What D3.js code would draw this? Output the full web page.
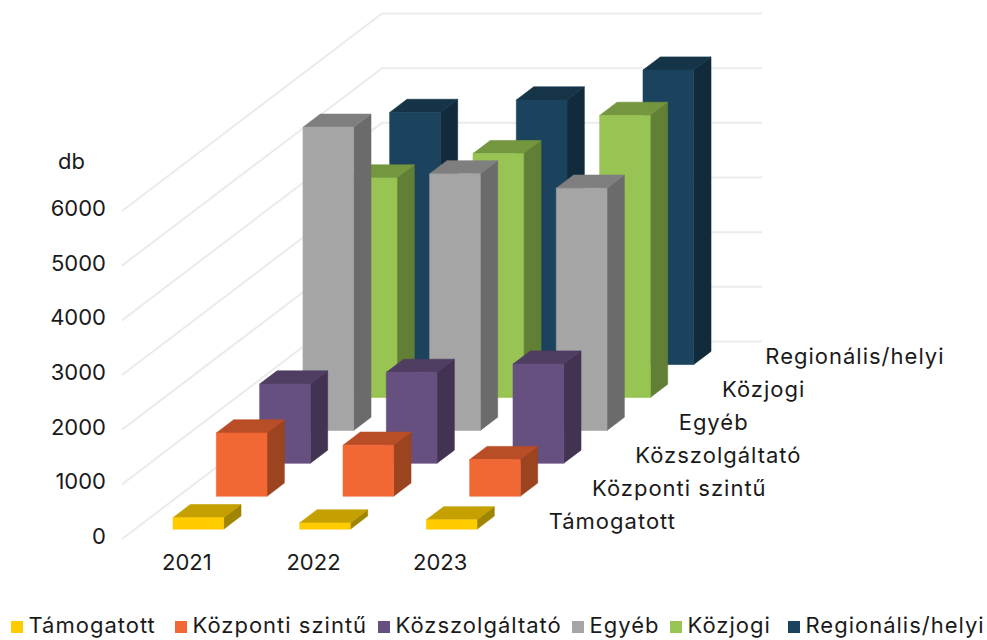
<!DOCTYPE html>
<html>
<head>
<meta charset="utf-8">
<script src="https://cdn.jsdelivr.net/npm/d3@7"></script>
<style>
    html, body { margin: 0; padding: 0; background: #fff; }
    text { font-family: Inter, "Noto Sans", sans-serif; font-size: 22px; fill: #1a1a1a; }
</style>
</head>
<body>
<svg id="chart" width="987" height="640"></svg>
<script>
const years = ['2021', '2022', '2023'];
const seriesNames = ['Támogatott', 'Központi szintű', 'Közszolgáltató', 'Egyéb', 'Közjogi', 'Regionális/helyi'];

// values
const tamogatott = [210, 113, 170];
const kozponti = [1157, 932, 670];
const kozszolgaltato = [1450, 1664, 1815];
const egyeb = [5545, 4693, 4430];
const kozjogi = [4015, 4461, 5160];
const regionalis = [4612, 4839, 5387];
const seriesValues = [tamogatott, kozponti, kozszolgaltato, egyeb, kozjogi, regionalis];

const yTicks = [0, 1000, 2000, 3000, 4000, 5000, 6000];

// front, top, side shade of each series
const frontColors = ['#FFCC00', '#F26835', '#66507F', '#A5A5A5', '#97C452', '#1B435D'];
const topColors = ['#C4A000', '#B94E26', '#4F3D62', '#7F7F7F', '#74963F', '#153448'];
const sideColors = ['#A08500', '#9C4320', '#433353', '#6B6B6B', '#617F35', '#112B3C'];

const legendX = [11, 175, 378, 572, 670, 788];

const svg = d3.select('#chart');

// floor corner and the oblique direction of the depth axis
const origin = {x: 122, y: 539};
const floorWidth = 380;
const depthVec = {x: 260, y: -197.5};

const x = d3.scaleBand().domain(years).range([0, floorWidth]).paddingInner(0.6).paddingOuter(0.3);
const z = d3.scaleBand().domain(seriesNames).range([0, 1]).paddingInner(0.6).paddingOuter(0.3);
const y = d3.scaleLinear().domain([0, 6000]).range([0, 328]);

// x along the floor, d along the depth (0..1), v as a data value
function project(px, d, v) {
    return [origin.x + px + d * depthVec.x, origin.y + d * depthVec.y - y(v)];
}

function poly(points) {
    return points.map(p => p.join(',')).join(' ');
}

// grid
svg.append('g').selectAll('polyline')
    .data(yTicks)
    .join('polyline')
    .attr('points', d => poly([project(0, 0, d), project(0, 1, d), project(floorWidth, 1, d)]))
    .attr('fill', 'none')
    .attr('stroke', '#ebebeb')
    .attr('stroke-width', 2);

// bars, back row first
const rows = seriesNames.map((name, i) => ({name, i})).reverse();

rows.forEach(row => {
    const g = svg.append('g').attr('class', 'row');
    const d0 = z(row.name);
    const d1 = d0 + z.bandwidth();
    const cells = years.map((year, j) => {
        const x0 = x(year);
        return {x0, x1: x0 + x.bandwidth(), v: seriesValues[row.i][j]};
    });

    g.selectAll('.side').data(cells).join('polygon')
        .attr('class', 'side')
        .attr('fill', sideColors[row.i])
        .attr('stroke', sideColors[row.i])
        .attr('stroke-width', 0.6)
        .attr('points', c => poly([project(c.x1, d0, 0), project(c.x1, d1, 0), project(c.x1, d1, c.v), project(c.x1, d0, c.v)]));

    g.selectAll('.top').data(cells).join('polygon')
        .attr('class', 'top')
        .attr('fill', topColors[row.i])
        .attr('stroke', topColors[row.i])
        .attr('stroke-width', 0.6)
        .attr('points', c => poly([project(c.x0, d0, c.v), project(c.x1, d0, c.v), project(c.x1, d1, c.v), project(c.x0, d1, c.v)]));

    g.selectAll('.front').data(cells).join('polygon')
        .attr('class', 'front')
        .attr('fill', frontColors[row.i])
        .attr('stroke', frontColors[row.i])
        .attr('stroke-width', 0.6)
        .attr('points', c => poly([project(c.x0, d0, 0), project(c.x1, d0, 0), project(c.x1, d0, c.v), project(c.x0, d0, c.v)]));
});

// value axis
const yAxisScale = d3.scaleLinear().domain([0, 6000]).range([origin.y - 2.5, origin.y - 2.5 - y(6000)]);
const yAxis = d3.axisLeft(yAxisScale).tickValues(yTicks).tickSize(0).tickPadding(0).tickFormat(d3.format('d'));
svg.append('g')
    .attr('transform', 'translate(106,0)')
    .call(yAxis)
    .call(g => g.select('.domain').remove())
    .selectAll('text')
    .style('font-family', 'Inter')
    .style('font-size', '22px')
    .attr('fill', '#1a1a1a');

svg.append('text').attr('x', 58).attr('y', 169).text('db');

// year labels below the floor
svg.append('g').selectAll('text')
    .data(years)
    .join('text')
    .attr('x', d => origin.x + x(d) + x.bandwidth() / 2 + 1.5)
    .attr('y', 570)
    .attr('text-anchor', 'middle')
    .text(d => d);

// series labels along the depth axis
svg.append('g').selectAll('text')
    .data(seriesNames)
    .join('text')
    .attr('x', d => project(floorWidth, z(d) + z.bandwidth() / 2, 0)[0] + 25)
    .attr('y', d => project(floorWidth, z(d) + z.bandwidth() / 2, 0)[1] + 6)
    .attr('letter-spacing', '1')
    .text(d => d);

// legend
const legend = svg.append('g').selectAll('g')
    .data(seriesNames)
    .join('g')
    .attr('transform', (d, i) => `translate(${legendX[i]},621)`);

legend.append('rect')
    .attr('width', 12)
    .attr('height', 12)
    .attr('fill', (d, i) => frontColors[i]);

legend.append('text')
    .attr('x', 17.5)
    .attr('y', 12)
    .attr('letter-spacing', '1')
    .text(d => d);
</script>
</body>
</html>
